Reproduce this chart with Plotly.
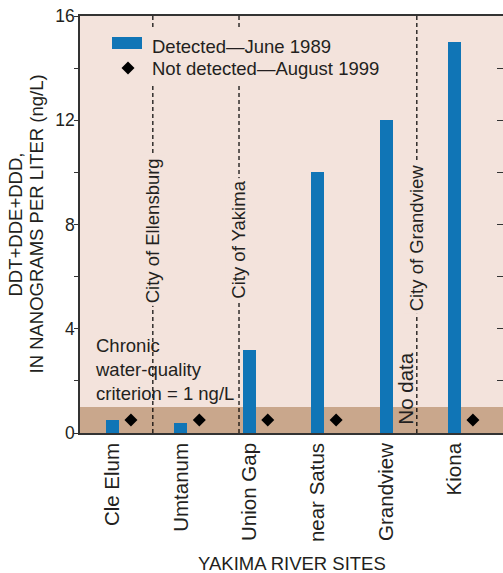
import plotly.graph_objects as go

# Yakima River sampling sites, upstream to downstream
sites = ["Cle Elum", "Umtanum", "Union Gap", "near Satus", "Grandview", "Kiona"]
site_pos = [0, 1, 2, 3, 4, 5]

# DDT+DDE+DDD (ng/L)
detected_1989 = [0.5, 0.4, 3.2, 10.0, 12.0, 15.0]
# Not detected in 1999: plotted just below the 1 ng/L criterion (no sample at Grandview)
not_detected_1999 = [0.5, 0.5, 0.5, 0.5, None, 0.5]
nd_offset = 0.27

criterion = 1.0

# City boundaries between sites: (x position, label, label centre on y)
cities = [(0.59, "City of Ellensburg", 7.77),
          (1.85, "City of Yakima", 7.42),
          (4.45, "City of Grandview", 7.5)]

y_ticks = [0, 2, 4, 6, 8, 10, 12, 14, 16]
y_ticktext = ["0", "", "4", "", "8", "", "12", "", "16"]

BG = "#f3e3dc"
BAND = "#c9a78c"
BLUE = "#1075b6"
INK = "#231f20"
FONT = "Liberation Sans, Arial, Helvetica, sans-serif"

W, H = 503, 573
ML, MR, MT, MB = 80, 0, 16, 140
PW, PH = W - ML - MR, H - MT - MB


def px(x):  # horizontal pixel -> paper
    return (x - ML) / PW


def py(y):  # vertical pixel -> paper
    return (H - MB - y) / PH


fig = go.Figure()
fig.add_trace(go.Bar(x=site_pos, y=detected_1989, width=0.19,
                     marker=dict(color=BLUE, line=dict(width=0)),
                     showlegend=False))
fig.add_trace(go.Scatter(x=[p + nd_offset for p in site_pos], y=not_detected_1999,
                         mode="markers",
                         marker=dict(symbol="diamond", size=10, color="black"),
                         showlegend=False))
# empty traces so the tick-only axes are always laid out
for ax in ("y2", "y3"):
    fig.add_trace(go.Scatter(x=[None], y=[None], yaxis=ax, mode="markers",
                             showlegend=False, hoverinfo="skip"))

shapes = [dict(type="rect", xref="paper", yref="y", x0=0, x1=1, y0=0, y1=criterion,
               fillcolor=BAND, line=dict(width=0), layer="below")]
for xc, _, _ in cities:
    shapes.append(dict(type="line", xref="x", yref="paper", x0=xc, x1=xc, y0=0, y1=1,
                       line=dict(color="black", width=1.2, dash="4px,3px"), layer="below"))

# legend panel
shapes.append(dict(type="rect", xref="paper", yref="paper",
                   x0=px(100), x1=px(392), y0=py(85), y1=py(27),
                   fillcolor=BG, line=dict(width=0), layer="above"))
shapes.append(dict(type="rect", xref="paper", yref="paper",
                   x0=px(112), x1=px(142), y0=py(49), y1=py(37),
                   fillcolor=BLUE, line=dict(width=0), layer="above"))
dx, dy, cx, cy = 6.5, 6.5, 128, 68
shapes.append(dict(type="path", xref="paper", yref="paper",
                   path=(f"M{px(cx)},{py(cy - dy)} L{px(cx + dx)},{py(cy)} "
                         f"L{px(cx)},{py(cy + dy)} L{px(cx - dx)},{py(cy)} Z"),
                   fillcolor="black", line=dict(width=0), layer="above"))

ann_font = dict(family=FONT, size=18.5, color=INK)
annotations = [
    dict(x=px(150), y=py(46), xref="paper", yref="paper", text="Detected\u2014June 1989",
         showarrow=False, xanchor="left", yanchor="middle", font=ann_font),
    dict(x=px(150), y=py(68), xref="paper", yref="paper", text="Not detected\u2014August 1999",
         showarrow=False, xanchor="left", yanchor="middle", font=ann_font),
    dict(x=-0.285, y=2.42, xref="x", yref="y",
         text="Chronic<br>water-quality<br>criterion = 1 ng/L",
         showarrow=False, xanchor="left", yanchor="middle", align="left", font=ann_font),
    dict(x=4.28, y=1.71, xref="x", yref="y", text="No data", textangle=-90,
         showarrow=False, xanchor="center", yanchor="middle",
         font=dict(family=FONT, size=20.5, color=INK)),
    dict(x=0.5, y=py(563), xref="paper", yref="paper", text="YAKIMA RIVER SITES",
         showarrow=False, xanchor="center", yanchor="middle", font=ann_font),
    dict(x=px(15), y=0.5, xref="paper", yref="paper", text="DDT+DDE+DDD,", textangle=-90,
         showarrow=False, xanchor="center", yanchor="middle", font=ann_font),
    dict(x=px(36), y=0.5, xref="paper", yref="paper", text="IN NANOGRAMS PER LITER (ng/L)",
         textangle=-90, showarrow=False, xanchor="center", yanchor="middle", font=ann_font),
]
for xc, label, yc in cities:
    annotations.append(dict(x=xc, y=yc, xref="x", yref="y", text=label, textangle=-90,
                            showarrow=False, xanchor="center", yanchor="middle",
                            bgcolor=BG, borderpad=2, font=ann_font))

tick_axis = dict(range=[0, 16], overlaying="y", tickvals=y_ticks, tickwidth=1.2,
                 tickcolor="#333", showticklabels=False, showgrid=False,
                 zeroline=False, showline=False, fixedrange=True)

fig.update_layout(
    width=W, height=H,
    margin=dict(l=ML, r=MR, t=MT, b=MB, pad=0),
    paper_bgcolor="white", plot_bgcolor=BG,
    font=dict(family=FONT, color=INK),
    showlegend=False,
    bargap=0,
    shapes=shapes,
    annotations=annotations,
    xaxis=dict(range=[-0.475, 5.71], tickvals=site_pos, ticktext=sites, tickangle=-90,
               tickfont=dict(size=20.5, family=FONT, color=INK), ticks="",
               showgrid=False, zeroline=False, showline=True, linecolor="#333",
               linewidth=1.5, mirror=True, fixedrange=True),
    yaxis=dict(range=[0, 16], tickvals=y_ticks, ticktext=y_ticktext, ticks="",
               tickfont=dict(size=17.5, family=FONT, color=INK),
               showgrid=False, zeroline=False, showline=True, linecolor="#333",
               linewidth=1.5, mirror=False, fixedrange=True),
    # tick marks: outside on the left, inside on the right
    yaxis3=dict(side="left", ticks="outside", ticklen=5, **tick_axis),
    yaxis2=dict(side="right", ticks="inside", ticklen=6, **tick_axis),
)

fig.write_html("out.html")
